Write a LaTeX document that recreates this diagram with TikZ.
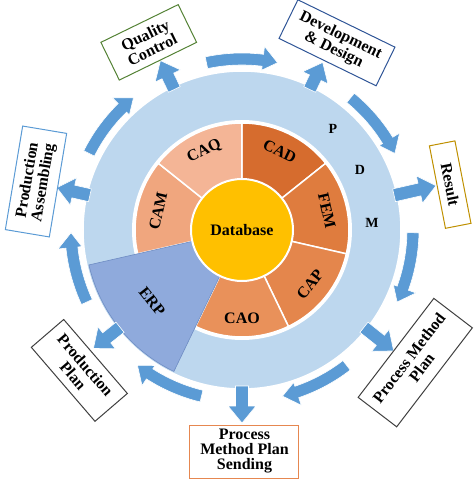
\documentclass[tikz,border=0pt]{standalone}
\usepackage{fontspec}
\setmainfont{Liberation Serif}
\definecolor{ringblue}{RGB}{189,215,238}
\definecolor{arrowblue}{RGB}{91,155,213}
\definecolor{erpblue}{RGB}{143,170,220}
\definecolor{erpedge}{RGB}{110,140,195}
\definecolor{dbyellow}{RGB}{255,192,0}
\definecolor{cCAD}{RGB}{214,108,46}
\definecolor{cFEM}{RGB}{223,124,62}
\definecolor{cCAP}{RGB}{228,134,76}
\definecolor{cCAO}{RGB}{233,145,90}
\definecolor{cCAM}{RGB}{240,166,126}
\definecolor{cCAQ}{RGB}{244,181,150}
\definecolor{qcgreen}{RGB}{84,130,53}
\definecolor{ddnavy}{RGB}{47,85,151}
\definecolor{resgold}{RGB}{191,144,0}
\definecolor{boxgray}{RGB}{64,64,64}
\definecolor{sendorange}{RGB}{230,135,80}
\newcommand\myradarrow[2]{%
  \begin{scope}[rotate=#1]
    \path[arrowshape] (156,-6.5) -- ({#2-17},-6.5) -- ({#2-17},-14) -- (#2,0)
      -- ({#2-17},14) -- ({#2-17},6.5) -- (156,6.5) -- cycle;
  \end{scope}}
\newcommand\mycurvarrow[2]{%
  \path[arrowshape] (#1:177) arc[start angle=#1, end angle={#2+5}, radius=177]
    -- ({#2+5}:185) -- (#2:171) -- ({#2+5}:161) -- ({#2+5}:165)
    arc[start angle={#2+5}, end angle=#1, radius=165] -- cycle;}
\begin{document}
\begin{tikzpicture}[x=1pt,y=1pt,
  lbl/.style={font=\bfseries\fontsize{16}{16}\selectfont, inner sep=0pt},
  pdm/.style={font=\bfseries\fontsize{14}{14}\selectfont, inner sep=0pt},
  boxlbl/.style={draw, fill=white, line width=1pt, align=center, inner sep=0pt,
    font=\bfseries\fontsize{16}{16}\selectfont},
  arrowshape/.style={fill=arrowblue, draw=white, line width=0.6pt},
  sector/.style={draw=white, line width=1.5pt}]
\useasboundingbox (-242,-250) rectangle (232,230);

% outer ring
\path[fill=ringblue, draw=white, line width=1.5pt] (0,0) circle[radius=159];
\fill[white] (0,0) circle[radius=110];

% sectors
\path[sector, fill=cCAD] (0,0) -- (90:107) arc[start angle=90, end angle=38.571, radius=107] -- cycle;
\path[sector, fill=cFEM] (0,0) -- (38.571:107) arc[start angle=38.571, end angle=-12.857, radius=107] -- cycle;
\path[sector, fill=cCAP] (0,0) -- (-12.857:107) arc[start angle=-12.857, end angle=-64.286, radius=107] -- cycle;
\path[sector, fill=cCAO] (0,0) -- (-64.286:107) arc[start angle=-64.286, end angle=-115.714, radius=107] -- cycle;
\path[sector, fill=cCAM] (0,0) -- (-167.143:107) arc[start angle=-167.143, end angle=-218.571, radius=107] -- cycle;
\path[sector, fill=cCAQ] (0,0) -- (-218.571:107) arc[start angle=-218.571, end angle=-270, radius=107] -- cycle;
% ERP sector
\path[fill=erpblue, draw=erpedge, line width=0.6pt] (0,0) -- (-115.714:157)
  arc[start angle=-115.714, end angle=-167.143, radius=157] -- cycle;

% database
\node[circle, fill=dbyellow, draw=white, line width=2pt, minimum size=102pt, inner sep=0pt,
  font=\bfseries\fontsize{16}{16}\selectfont] (db) at (0,0) {Database};

% sector labels
\node[lbl, rotate=-25.71] (lcad) at (64.286:87) {CAD};
\node[lbl, rotate=-77.14] (lfem) at (12.857:87) {FEM};
\node[lbl, rotate=51.43] (lcap) at (-38.571:87) {CAP};
\node[lbl] (lcao) at (-90:88) {CAO};
\node[lbl, rotate=77.14] (lcam) at (167.143:86) {CAM};
\node[lbl, rotate=25.71] (lcaq) at (115.714:87) {CAQ};
\node[lbl, rotate=-51.43] (lerp) at (-141.429:115) {ERP};

% P D M
\node[pdm] (p) at (91,101) {P};
\node[pdm] (d) at (118,60) {D};
\node[pdm] (m) at (130,7) {M};

% radial arrows
\myradarrow{64.286}{186}
\myradarrow{12.857}{199}
\myradarrow{-38.571}{194}
\myradarrow{-90}{193}
\myradarrow{-141.429}{190}
\myradarrow{167.143}{190}
\myradarrow{115.714}{188}

% curved arrows
\mycurvarrow{102}{78}
\mycurvarrow{50.6}{26.6}
\mycurvarrow{-0.9}{-24.9}
\mycurvarrow{-52.3}{-76.3}
\mycurvarrow{-103.7}{-127.7}
\mycurvarrow{-155.1}{-179.1}
\mycurvarrow{153.4}{129.4}

% boxes
\node[boxlbl, draw=qcgreen, rotate=26, minimum width=86pt, minimum height=42pt] (qc) at (-93.25,187.65) {Quality\\Control};
\node[boxlbl, draw=ddnavy, rotate=-26, minimum width=108pt, minimum height=43pt] (dd) at (95,187.2) {Development\\\& Design};
\node[boxlbl, draw=resgold, rotate=-79, minimum width=84pt, minimum height=26pt] (res) at (208.2,45.4) {Result};
\node[boxlbl, draw=arrowblue, rotate=80.5, minimum width=105pt, minimum height=44.6pt] (pa) at (-206,48.5) {Production\\Assembling};
\node[boxlbl, draw=boxgray, rotate=-49.3, minimum width=97.6pt, minimum height=42.7pt] (pp) at (-162.65,-140.4) {Production\\Plan};
\node[boxlbl, draw=boxgray, rotate=52.6, minimum width=124.6pt, minimum height=48.5pt] (pmp) at (173.25,-132.6) {Process Method\\Plan};
\node[boxlbl, draw=sendorange, minimum width=109pt, minimum height=53pt,
  font=\bfseries\fontsize{16}{15}\selectfont] (send) at (2.5,-221.5) {Process\\Method Plan\\Sending};
\end{tikzpicture}
\end{document}
